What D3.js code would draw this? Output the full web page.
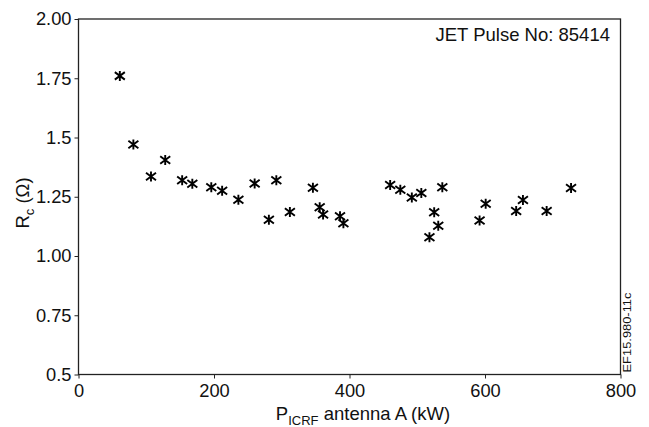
<!DOCTYPE html>
<html>
<head>
<meta charset="utf-8">
<script src="https://cdn.jsdelivr.net/npm/d3@7"></script>
<style>
  html, body { margin: 0; padding: 0; background: #fff; }
  svg { display: block; font-family: "Liberation Sans", Arial, Helvetica, sans-serif; }
</style>
</head>
<body>
<svg id="chart" width="649" height="427"></svg>
<script>
// Coupling resistance vs ICRF power, antenna A
const powerKW = [61, 81, 107, 128, 153, 168, 196, 212, 236, 260, 281, 292, 312, 346, 356, 361, 386, 391,
                 460, 475, 492, 506, 518, 525, 531, 537, 592, 601, 646, 656, 691, 727];
const rcOhm   = [1.76, 1.47, 1.335, 1.405, 1.32, 1.305, 1.29, 1.275, 1.237, 1.306, 1.153, 1.32, 1.186, 1.288, 1.206, 1.175, 1.168, 1.138,
                 1.30, 1.28, 1.247, 1.266, 1.079, 1.185, 1.128, 1.29, 1.15, 1.22, 1.19, 1.236, 1.19, 1.287];
const xTicks = [0, 200, 400, 600, 800];
const yTicks = [0.5, 0.75, 1.0, 1.25, 1.5, 1.75, 2.0];
const yTickLabels = ["0.5", "0.75", "1.00", "1.25", "1.5", "1.75", "2.00"];

const svg = d3.select("#chart");
const plotL = 78.5, plotR = 620.5, plotT = 19, plotB = 374.5;

const x = d3.scaleLinear().domain([0, 800]).range([plotL, plotR]);
const y = d3.scaleLinear().domain([0.5, 2.0]).range([plotB, plotT]);

// frame
svg.append("rect")
  .attr("x", plotL).attr("y", plotT)
  .attr("width", plotR - plotL).attr("height", plotB - plotT)
  .attr("fill", "none").attr("stroke", "#222").attr("stroke-width", 1.3);

// axes
const xAxis = svg.append("g")
  .attr("transform", `translate(0,${plotB})`)
  .call(d3.axisBottom(x).tickValues(xTicks).tickFormat(d3.format("d")).tickSize(4).tickPadding(3));
const yAxis = svg.append("g")
  .attr("transform", `translate(${plotL},0)`)
  .call(d3.axisLeft(y).tickValues(yTicks).tickFormat((d, i) => yTickLabels[i]).tickSize(4).tickPadding(3));

[xAxis, yAxis].forEach(g => {
  g.select(".domain").remove();
  g.selectAll(".tick line").attr("stroke", "#222").attr("stroke-width", 1);
  g.selectAll(".tick text").attr("fill", "#111").style("font-size", "18.3px");
});
xAxis.selectAll(".tick text").attr("dy", "0.84em");

// asterisk markers
const s = 5;
const star = `M0,${-s}L0,${s}M${-s},${-s * 0.75}L${s},${s * 0.75}M${-s},${s * 0.75}L${s},${-s * 0.75}`;
svg.append("g").selectAll("path")
  .data(powerKW.map((p, i) => [p, rcOhm[i]]))
  .join("path")
  .attr("transform", d => `translate(${x(d[0])},${y(d[1])})`)
  .attr("d", star)
  .attr("fill", "none")
  .attr("stroke", "#000")
  .attr("stroke-width", 1.9);

// annotation
svg.append("text")
  .attr("x", 610).attr("y", 41)
  .attr("text-anchor", "end")
  .style("font-size", "18.5px").attr("fill", "#111")
  .text("JET Pulse No: 85414");

// x axis title
const xt = svg.append("text")
  .attr("x", 363).attr("y", 420)
  .attr("text-anchor", "middle")
  .style("font-size", "18.5px").attr("fill", "#111");
xt.append("tspan").text("P");
xt.append("tspan").attr("dy", 5).style("font-size", "13px").text("ICRF");
xt.append("tspan").attr("dy", -5).text(" antenna A (kW)");

// y axis title
const yt = svg.append("text")
  .attr("transform", `translate(28.5,203) rotate(-90)`)
  .attr("text-anchor", "middle")
  .style("font-size", "18.5px").attr("fill", "#111");
yt.append("tspan").text("R");
yt.append("tspan").attr("dy", 5).style("font-size", "13px").text("c");
yt.append("tspan").attr("dy", -5).text(" (Ω)");

// figure reference
svg.append("text")
  .attr("transform", `translate(630.5,${plotB - 2}) rotate(-90)`)
  .attr("text-anchor", "start")
  .attr("textLength", 80).attr("lengthAdjust", "spacingAndGlyphs")
  .style("font-size", "11px").attr("fill", "#111")
  .text("EF15.980-11c");
</script>
</body>
</html>
